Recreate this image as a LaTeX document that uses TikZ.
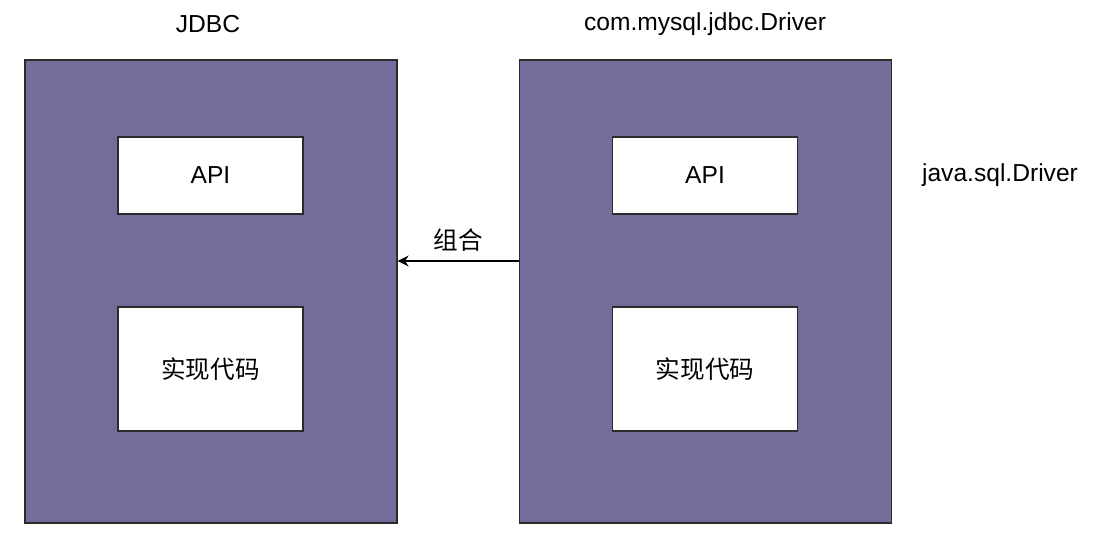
\documentclass[tikz,border=0pt]{standalone}
\usepackage{fontspec}
\setmainfont{Liberation Sans}
\newfontfamily\cjk{Noto Sans CJK SC}
\usetikzlibrary{arrows.meta, positioning}
\definecolor{pkgfill}{HTML}{766C9C}
\definecolor{pkgline}{HTML}{2B2B2B}

\begin{document}
\begin{tikzpicture}[
  x=1pt, y=-1pt,
  font=\fontsize{24.6}{29}\selectfont,
  pkg/.style={rectangle, draw=pkgline, fill=pkgfill, line width=1.3pt,
              minimum width=372pt, minimum height=463pt, inner sep=0pt},
  part/.style={rectangle, draw=pkgline, fill=white, line width=1.3pt,
               minimum width=185pt, inner sep=0pt},
  lbl/.style={text=black, inner sep=0pt},
  arr/.style={-{Stealth[length=11pt, width=11pt]}, draw=black, line width=1.2pt}
]
\useasboundingbox (0,0) rectangle (1100,552);

% ================================================= JDBC side
\node[pkg]  (jdbc) at (211, 291.5) {};
\node[lbl]  (tjdbc) at (208, 24) {JDBC};
\node[part, minimum height=77pt]  (api1)  at (210.5, 175.5) {API};
\node[part, minimum height=124pt] (impl1) at (210.5, 369) {\cjk 实现代码};

% ================================================= driver side
\node[pkg]  (drv) at (705.5, 291.5) {};
\node[lbl]  (tdrv) at (705, 24) {com.mysql.jdbc.Driver};
\node[part, minimum height=77pt]  (api2)  at (705, 175.5) {API};
\node[part, minimum height=124pt] (impl2) at (705, 369) {\cjk 实现代码};
\node[lbl]  (tiface) at (1000, 175) {java.sql.Driver};

% ================================================= composition
\draw[arr] ([yshift=30.5pt]drv.west) -- ([yshift=30.5pt]jdbc.east)
  node[midway, above=9pt, lbl] (comb) {\cjk 组合};

\end{tikzpicture}
\end{document}
